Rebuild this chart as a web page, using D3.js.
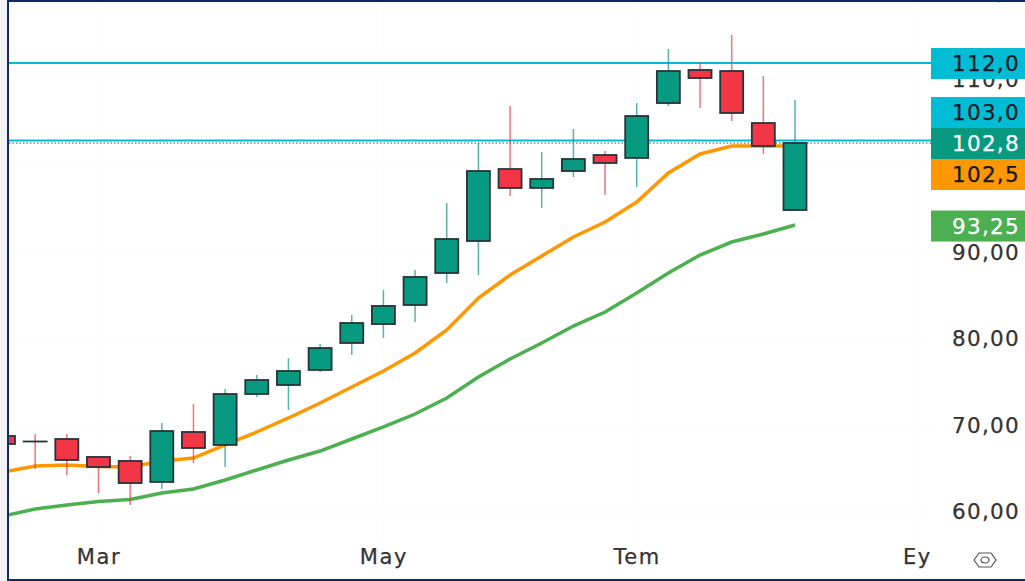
<!DOCTYPE html>
<html>
<head>
<meta charset="utf-8">
<style>
  html, body { margin: 0; padding: 0; background: #fff; overflow: hidden; }
  text { font-family: "DejaVu Sans", sans-serif; }
</style>
<script src="https://cdn.jsdelivr.net/npm/d3@7/dist/d3.min.js"></script>
</head>
<body>
<svg id="chart"></svg>
<script>
// Candles
const opens  = [68.79, 68.15, 68.44, 66.36, 65.90, 63.47, 69.25, 67.75, 73.64, 74.68, 76.42, 79.54, 81.73, 83.93, 87.63, 91.33, 99.65, 97.46, 99.42, 101.27, 100.93, 107.28, 111.10, 110.98, 104.97, 94.91];
const closes = [67.86, 68.15, 66.01, 65.20, 63.35, 69.36, 67.40, 73.64, 75.26, 76.30, 78.96, 81.85, 83.82, 87.17, 91.56, 99.42, 97.46, 98.50, 100.81, 100.35, 105.78, 110.98, 110.17, 106.13, 102.31, 102.66];
const highs  = [68.79, 69.02, 69.02, 66.36, 66.47, 70.29, 72.49, 74.22, 75.84, 77.80, 79.42, 82.78, 85.67, 87.98, 95.72, 102.66, 106.94, 101.62, 104.28, 101.74, 107.28, 113.53, 112.02, 115.14, 110.40, 107.63];
const lows   = [67.86, 64.97, 64.28, 62.20, 60.81, 62.66, 65.66, 65.20, 73.30, 71.79, 76.19, 78.15, 80.12, 81.97, 86.47, 87.40, 96.53, 95.15, 98.73, 96.65, 97.57, 106.94, 106.71, 105.20, 101.39, 94.91];

// Moving averages
const emaFast = [64.62, 65.32, 65.43, 65.26, 65.20, 65.90, 66.24, 67.75, 69.25, 70.87, 72.60, 74.45, 76.30, 78.38, 81.04, 84.74, 87.40, 89.60, 91.79, 93.53, 95.84, 99.19, 101.39, 102.31, 102.31, 102.31];
const emaSlow = [59.54, 60.35, 60.81, 61.21, 61.45, 62.20, 62.66, 63.70, 64.86, 66.01, 67.05, 68.44, 69.83, 71.33, 73.18, 75.61, 77.69, 79.54, 81.50, 83.12, 85.32, 87.63, 89.71, 91.21, 92.14, 93.18];

// Axis ticks
const yTicks = [60, 70, 80, 90, 100, 110, 120];
const yTickLabels = ['60,00', '70,00', '80,00', '90,00', '100,0', '110,0', '120,0'];
const xTicks = [3, 12, 20, 28.85];
const xTickLabels = ['Mar', 'May', 'Tem', 'Ey'];

// Price tags on the right and the two horizontal levels
const tagValues = [111.85, 103, 102.6, 102.5, 93.06];
const tagLabels = ['112,0', '103,0', '102,8', '102,5', '93,25'];
const tagFills = ['#00bcd4', '#00bcd4', '#089981', '#ff9800', '#4caf50'];
const tagInks = ['#131722', '#131722', '#ffffff', '#131722', '#ffffff'];
const levels = [111.9, 102.95];
const lastPrice = 102.65;

const width = 1025;
const height = 581;
const plotLeft = 9;
const plotRight = 931;
const tagHeight = 31;
const green = '#089981';
const red = '#f23645';

const svg = d3.select('#chart')
  .attr('width', width)
  .attr('height', height)
  .style('display', 'block');

const x = d3.scaleLinear().domain([0, 25]).range([3.5, 795]);
const y = d3.scaleLinear().domain([60, 120]).range([512, -7]);

svg.append('defs').append('clipPath').attr('id', 'plot')
  .append('rect')
  .attr('x', plotLeft).attr('y', 2)
  .attr('width', plotRight - plotLeft).attr('height', 577);

// Left strip outside the chart
svg.append('rect').attr('width', 7).attr('height', height).attr('fill', '#f2f2f2');

// Barely visible grid
const grid = svg.append('g').attr('stroke', '#fbfbfb');
grid.selectAll('line.h').data(yTicks).join('line')
  .attr('class', 'h')
  .attr('x1', plotLeft).attr('x2', plotRight)
  .attr('y1', d => y(d)).attr('y2', d => y(d));
grid.selectAll('line.v').data(xTicks).join('line')
  .attr('class', 'v')
  .attr('x1', d => x(d)).attr('x2', d => x(d))
  .attr('y1', 2).attr('y2', 540);

// Axes, tags go over them later
const yAxis = d3.axisRight(y)
  .tickValues(yTicks)
  .tickSize(0)
  .tickFormat((d, i) => yTickLabels[i]);
const yG = svg.append('g').call(yAxis);
yG.select('.domain').remove();
yG.selectAll('text')
  .attr('x', 1020)
  .attr('dy', '0.32em')
  .attr('text-anchor', 'end')
  .attr('fill', '#333')
  .attr('stroke', '#333')
  .attr('stroke-width', 0.25)
  .style('font-size', '21.5px')
  .style('letter-spacing', '1.3px');

const xAxis = d3.axisBottom(x)
  .tickValues(xTicks)
  .tickSize(0)
  .tickFormat((d, i) => xTickLabels[i]);
const xG = svg.append('g').attr('transform', 'translate(0,549)').call(xAxis);
xG.select('.domain').remove();
xG.selectAll('text')
  .attr('y', 0)
  .attr('dy', '0.71em')
  .attr('fill', '#333')
  .attr('stroke', '#333')
  .attr('stroke-width', 0.25)
  .style('font-size', '21px')
  .style('letter-spacing', '1.6px');

const plot = svg.append('g').attr('clip-path', 'url(#plot)');

// Moving averages sit under the candles
const lineGen = d3.line().x((d, i) => x(i)).y(d => y(d));
plot.append('path').datum(emaSlow)
  .attr('d', lineGen).attr('fill', 'none')
  .attr('stroke', '#4caf50').attr('stroke-width', 3.5);
plot.append('path').datum(emaFast)
  .attr('d', lineGen).attr('fill', 'none')
  .attr('stroke', '#ff9800').attr('stroke-width', 3.5);

// Levels
plot.selectAll('line.level').data(levels).join('line')
  .attr('class', 'level')
  .attr('x1', plotLeft).attr('x2', plotRight)
  .attr('y1', d => y(d)).attr('y2', d => y(d))
  .attr('stroke', '#00bcd4').attr('stroke-width', 2);
plot.append('line')
  .attr('x1', plotLeft).attr('x2', plotRight)
  .attr('y1', y(lastPrice)).attr('y2', y(lastPrice))
  .attr('stroke', '#0b6b5c').attr('stroke-width', 1)
  .attr('stroke-dasharray', '1.5 2');

// Candles
const candleData = opens.map((o, i) => ({ i, o, c: closes[i], h: highs[i], l: lows[i] }));
const candles = plot.selectAll('g.candle').data(candleData).join('g').attr('class', 'candle');
candles.append('line')
  .attr('x1', d => x(d.i)).attr('x2', d => x(d.i))
  .attr('y1', d => y(d.h)).attr('y2', d => y(d.l))
  .attr('stroke', d => d.c > d.o ? green : red)
  .attr('stroke-opacity', 0.7)
  .attr('stroke-width', 1.5);
// a doji has no height, a zero height rect would not show at all
candles.append('rect')
  .attr('x', d => x(d.i) - 11.5)
  .attr('width', 23)
  .attr('y', d => y(Math.max(d.o, d.c)))
  .attr('height', d => Math.max(Math.abs(y(d.o) - y(d.c)), 0.01))
  .attr('fill', d => d.c > d.o ? green : red)
  .attr('stroke', '#26343a')
  .attr('stroke-width', 1.8);

// Price tags: the last price stays put, the others get pushed away from it
const tagCentres = tagValues.map(v => y(v));
const anchor = tagLabels.indexOf('102,8');
for (let i = anchor - 1; i >= 0; i--) {
  tagCentres[i] = Math.min(tagCentres[i], tagCentres[i + 1] - tagHeight);
}
for (let i = anchor + 1; i < tagValues.length; i++) {
  tagCentres[i] = Math.max(tagCentres[i], tagCentres[i - 1] + tagHeight);
}
const tags = svg.selectAll('g.tag').data(tagValues).join('g').attr('class', 'tag');
tags.append('rect')
  .attr('x', plotRight)
  .attr('width', width - plotRight)
  .attr('y', (d, i) => tagCentres[i] - tagHeight / 2)
  .attr('height', tagHeight)
  .attr('fill', (d, i) => tagFills[i]);
tags.append('text')
  .attr('x', 1020)
  .attr('y', (d, i) => tagCentres[i])
  .attr('dy', '0.36em')
  .attr('text-anchor', 'end')
  .attr('fill', (d, i) => tagInks[i])
  .attr('stroke', (d, i) => tagInks[i])
  .attr('stroke-width', 0.25)
  .style('font-size', '21.5px')
  .style('letter-spacing', '1.3px')
  .text((d, i) => tagLabels[i]);

// Frame
svg.append('rect').attr('x', 7).attr('y', 0).attr('width', 2).attr('height', height).attr('fill', '#0d2a66');
svg.append('rect').attr('x', 7).attr('y', 0).attr('width', width - 7).attr('height', 2).attr('fill', '#0d2a66');
svg.append('rect').attr('x', 7).attr('y', 579).attr('width', width - 7).attr('height', 2).attr('fill', '#0d2a66');

// Small hexagon icon in the corner
const icon = svg.append('g').attr('transform', 'translate(985,560)')
  .attr('fill', 'none').attr('stroke', '#555').attr('stroke-width', 1.2);
icon.append('path').attr('d', 'M-11,0 L-6,-7 L6,-7 L11,0 L6,7 L-6,7 Z');
icon.append('ellipse').attr('rx', 4).attr('ry', 3);
</script>
</body>
</html>
